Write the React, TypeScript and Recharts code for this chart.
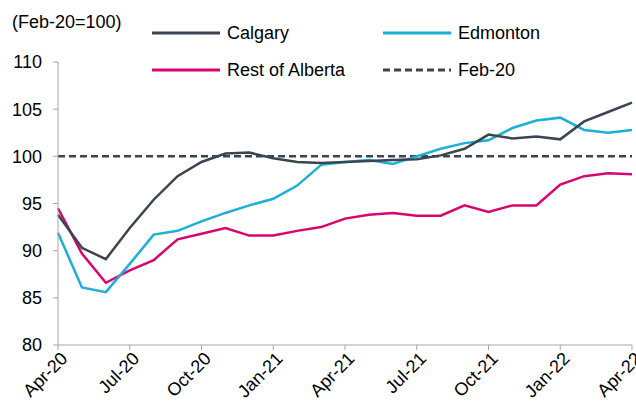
import React from 'react';
import { LineChart, Line, XAxis, YAxis, ReferenceLine } from 'recharts';

const months = [
  'Apr-20', 'May-20', 'Jun-20', 'Jul-20', 'Aug-20', 'Sep-20', 'Oct-20', 'Nov-20', 'Dec-20',
  'Jan-21', 'Feb-21', 'Mar-21', 'Apr-21', 'May-21', 'Jun-21', 'Jul-21', 'Aug-21', 'Sep-21',
  'Oct-21', 'Nov-21', 'Dec-21', 'Jan-22', 'Feb-22', 'Mar-22', 'Apr-22',
];
const calgary = [93.8, 90.3, 89.1, 92.4, 95.4, 97.9, 99.4, 100.3, 100.4, 99.8, 99.4, 99.3, 99.4, 99.5, 99.6, 99.7, 100.1, 100.8, 102.3, 101.9, 102.1, 101.8, 103.7, 104.7, 105.7];
const edmonton = [91.9, 86.1, 85.6, 88.6, 91.7, 92.1, 93.1, 94.0, 94.8, 95.5, 96.9, 99.1, 99.4, 99.6, 99.2, 100.0, 100.8, 101.4, 101.7, 103.0, 103.8, 104.1, 102.8, 102.5, 102.8];
const restOfAlberta = [94.5, 89.7, 86.6, 87.9, 89.0, 91.2, 91.8, 92.4, 91.6, 91.6, 92.1, 92.5, 93.4, 93.8, 94.0, 93.7, 93.7, 94.8, 94.1, 94.8, 94.8, 97.0, 97.9, 98.2, 98.1];
const yTicks = [80, 85, 90, 95, 100, 105, 110];
const baseline = 100;

const FONT = '"Liberation Sans", Arial, sans-serif';
const DARK = '#3b4550';
const CYAN = '#1cb0d8';
const MAGENTA = '#d9056f';
const AXIS = '#a6a6a6';

const data = months.map((m, i) => ({
  month: m,
  Calgary: calgary[i],
  Edmonton: edmonton[i],
  Rest: restOfAlberta[i],
}));

const XTick = (props: any) => {
  const { x, y, payload } = props;
  return (
    <text
      x={x}
      y={y}
      dx={2}
      dy={13}
      transform={`rotate(-45, ${x}, ${y})`}
      textAnchor="end"
      fontSize={18}
      fontFamily={FONT}
      fill="#000"
    >
      {payload.value}
    </text>
  );
};

const legendItems = [
  { label: 'Calgary', color: DARK, dashed: false, left: 152, top: 33 },
  { label: 'Edmonton', color: CYAN, dashed: false, left: 383, top: 33 },
  { label: 'Rest of Alberta', color: MAGENTA, dashed: false, left: 152, top: 70 },
  { label: 'Feb-20', color: DARK, dashed: true, left: 383, top: 70 },
];

export default function App() {
  return (
    <div style={{ position: 'absolute', left: 0, top: 0, width: 636, height: 406, background: '#fff', fontFamily: FONT }}>
      <LineChart width={636} height={406} data={data} margin={{ top: 62, right: 4, bottom: 0, left: 0 }}>
        <XAxis
          dataKey="month"
          interval={2}
          tick={<XTick />}
          tickSize={5}
          stroke={AXIS}
          tickLine={{ stroke: AXIS }}
          height={61}
        />
        <YAxis
          domain={[80, 110]}
          ticks={yTicks}
          width={58}
          tickSize={5}
          tickMargin={11}
          stroke={AXIS}
          tick={{ fontSize: 18, fill: '#000', fontFamily: FONT }}
          interval={0}
        />
        <ReferenceLine y={baseline} stroke={DARK} strokeWidth={2.5} strokeDasharray="7 4" />
        <Line dataKey="Rest" stroke={MAGENTA} strokeWidth={2.5} dot={false} isAnimationActive={false} />
        <Line dataKey="Edmonton" stroke={CYAN} strokeWidth={2.5} dot={false} isAnimationActive={false} />
        <Line dataKey="Calgary" stroke={DARK} strokeWidth={2.5} dot={false} isAnimationActive={false} />
      </LineChart>
      <div style={{ position: 'absolute', left: 12, top: 11, fontSize: 18, lineHeight: '22px', color: '#000', whiteSpace: 'nowrap' }}>
        (Feb-20=100)
      </div>
      {legendItems.map((it) => (
        <div key={it.label} style={{ position: 'absolute', left: it.left, top: it.top - 11, height: 22, display: 'flex', alignItems: 'center', whiteSpace: 'nowrap' }}>
          <svg width={68} height={6} style={{ display: 'block' }}>
            <line x1={0} y1={3} x2={68} y2={3} stroke={it.color} strokeWidth={3} strokeDasharray={it.dashed ? '7 4' : undefined} />
          </svg>
          <span style={{ marginLeft: 7, fontSize: 18, lineHeight: '22px', color: '#000' }}>{it.label}</span>
        </div>
      ))}
    </div>
  );
}
